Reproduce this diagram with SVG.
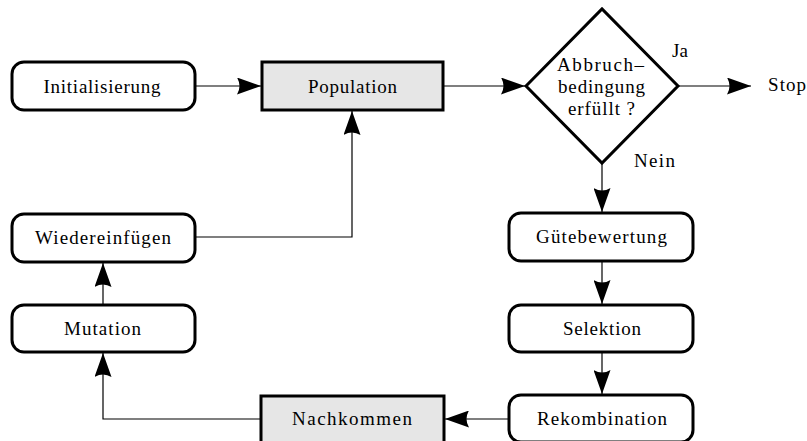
<svg xmlns="http://www.w3.org/2000/svg" width="807" height="441" viewBox="0 0 807 441">
<style>
  .box{fill:#fff;stroke:#000;stroke-width:3}
  .gray{fill:#e6e6e6;stroke:#000;stroke-width:3}
  .c{fill:none;stroke:#000;stroke-width:1.2}
</style>
<defs>
  <marker id="arr" markerUnits="userSpaceOnUse" viewBox="0 0 24 17" refX="24" refY="8.5" markerWidth="24" markerHeight="17" orient="auto">
    <path d="M0,0 L24,8.5 L0,17 Q5,8.5 0,0 Z" fill="#000"/>
  </marker>
</defs>
<rect width="807" height="441" fill="#fff"/>
<g id="connectors">
  <path class="c" d="M195,86 H261" marker-end="url(#arr)"/>
  <path class="c" d="M443,86 H525" marker-end="url(#arr)"/>
  <path class="c" d="M678,86 H751" marker-end="url(#arr)"/>
  <path class="c" d="M602,163 V212" marker-end="url(#arr)"/>
  <path class="c" d="M602,261 V304" marker-end="url(#arr)"/>
  <path class="c" d="M602,352 V394" marker-end="url(#arr)"/>
  <path class="c" d="M509,419 H445" marker-end="url(#arr)"/>
  <path class="c" d="M261,419 H103 V353" marker-end="url(#arr)"/>
  <path class="c" d="M103,305 V263" marker-end="url(#arr)"/>
  <path class="c" d="M195,237 H352 V111" marker-end="url(#arr)"/>
</g>
<g font-family="Liberation Serif, Times New Roman, serif" font-size="19" fill="#000">
<g id="initialisierung">
  <rect class="box" x="12" y="62" width="183" height="48" rx="12"/>
  <text text-anchor="middle" x="102" y="93" textLength="117" lengthAdjust="spacing">Initialisierung</text>
</g>
<g id="population">
  <rect class="gray" x="262" y="62" width="181" height="48"/>
  <text text-anchor="middle" x="352.5" y="93" textLength="89" lengthAdjust="spacing">Population</text>
</g>
<g id="abbruch">
  <polygon class="box" points="526,86 602,9 678,86 602,163"/>
  <text text-anchor="middle" x="600.5" y="71" textLength="87" lengthAdjust="spacing">Abbruch–</text>
  <text text-anchor="middle" x="601.5" y="93" textLength="87" lengthAdjust="spacing">bedingung</text>
  <text text-anchor="middle" x="601.5" y="115" textLength="67" lengthAdjust="spacing">erfüllt ?</text>
</g>
<g id="stop">
  <text x="768" y="91" textLength="38" lengthAdjust="spacing">Stop</text>
</g>
<g id="labels">
  <text x="672" y="57">Ja</text>
  <text x="634" y="167" textLength="41" lengthAdjust="spacing">Nein</text>
</g>
<g id="wiedereinfuegen">
  <rect class="box" x="12" y="214" width="183" height="48" rx="12"/>
  <text text-anchor="middle" x="103" y="244" textLength="136" lengthAdjust="spacing">Wiedereinfügen</text>
</g>
<g id="mutation">
  <rect class="box" x="12" y="305" width="183" height="47" rx="12"/>
  <text text-anchor="middle" x="102.5" y="335" textLength="77" lengthAdjust="spacing">Mutation</text>
</g>
<g id="guetebewertung">
  <rect class="box" x="509" y="213" width="184" height="48" rx="12"/>
  <text text-anchor="middle" x="601.5" y="243" textLength="131" lengthAdjust="spacing">Gütebewertung</text>
</g>
<g id="selektion">
  <rect class="box" x="509" y="305" width="184" height="47" rx="12"/>
  <text text-anchor="middle" x="602" y="335" textLength="78" lengthAdjust="spacing">Selektion</text>
</g>
<g id="rekombination">
  <rect class="box" x="509" y="395" width="184" height="47" rx="12"/>
  <text text-anchor="middle" x="602" y="425" textLength="130" lengthAdjust="spacing">Rekombination</text>
</g>
<g id="nachkommen">
  <rect class="gray" x="261" y="396" width="183" height="47"/>
  <text text-anchor="middle" x="352" y="425" textLength="120" lengthAdjust="spacing">Nachkommen</text>
</g>
</g>
</svg>
